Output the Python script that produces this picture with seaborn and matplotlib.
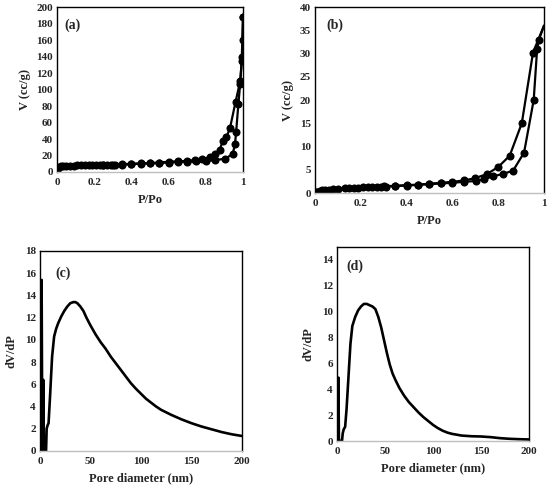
import matplotlib
matplotlib.use("Agg")
import matplotlib.pyplot as plt
import seaborn as sns
import pandas as pd

# (a) isotherm
a_ads_p = [0.0, 0.005, 0.01, 0.02, 0.03, 0.05, 0.07, 0.09, 0.11, 0.13, 0.15, 0.17, 0.19,
           0.21, 0.23, 0.25, 0.27, 0.29, 0.31, 0.35, 0.40, 0.45, 0.50, 0.55, 0.60, 0.65,
           0.70, 0.75, 0.80, 0.85, 0.905, 0.945, 0.957, 0.963, 0.975, 0.985, 0.993, 1.0]
a_ads_v = [0, 5, 6.5, 7, 7, 7.5, 7.5, 7.5, 8, 8, 8, 8, 8, 8.5, 8.5, 8.5, 8.5, 8.5, 9,
           9, 9.5, 10, 10.5, 11, 11.5, 12, 12.5, 13, 13.5, 14.5, 16, 22, 34, 48, 82, 107, 134, 188]
a_des_p = [1.0, 0.998, 0.995, 0.985, 0.96, 0.93, 0.91, 0.89, 0.875, 0.85, 0.82, 0.78,
           0.74, 0.70, 0.65, 0.60, 0.55, 0.50, 0.45, 0.40, 0.35, 0.30, 0.25]
a_des_v = [188, 160, 140, 110, 85, 53, 42, 37, 27, 22, 18, 15.5, 14.5, 13.5, 13, 12.5,
           11.5, 11, 10.5, 10, 9.5, 9, 8.5]

# (b) isotherm
b_ads_p = [0.0, 0.005, 0.01, 0.02, 0.03, 0.045, 0.06, 0.08, 0.10, 0.13, 0.15, 0.17, 0.19,
           0.21, 0.23, 0.25, 0.27, 0.29, 0.31, 0.35, 0.40, 0.45, 0.50, 0.55, 0.60, 0.65,
           0.705, 0.74, 0.778, 0.82, 0.865, 0.913, 0.955, 0.97, 0.978, 1.0]
b_ads_v = [0, 0.2, 0.3, 0.45, 0.55, 0.65, 0.75, 0.8, 0.9, 1.0, 1.05, 1.1, 1.15, 1.2, 1.25,
           1.3, 1.3, 1.35, 1.4, 1.5, 1.6, 1.75, 1.9, 2.05, 2.2, 2.4, 2.6, 3.0, 3.6, 4.1,
           4.8, 8.7, 20, 31, 33, 36]
b_des_p = [1.0, 0.952, 0.903, 0.85, 0.80, 0.752, 0.70, 0.65, 0.60, 0.55, 0.50, 0.45,
           0.40, 0.35, 0.30]
b_des_v = [36, 30.2, 15, 8, 5.6, 4.1, 3.2, 2.7, 2.4, 2.2, 2.0, 1.8, 1.7, 1.55, 1.45]

# (c) pore size distribution
c_d = [1.0, 1.6, 2.3, 2.8, 3.3, 3.9, 4.5, 5.2, 6.0, 6.6, 7.5, 8.5, 10, 12, 14, 16, 18,
       21, 24, 27, 30, 33, 35, 37, 40, 43, 46, 50, 55, 60, 65, 70, 75, 80, 85, 90, 95,
       100, 105, 110, 115, 120, 130, 140, 150, 160, 170, 180, 190, 200]
c_v = [0, 15.4, 0, 0, 6.4, 0, 0, 0, 0, 2.0, 2.3, 2.5, 5, 8.5, 10.3, 11, 11.5, 12.1,
       12.6, 13.0, 13.3, 13.4, 13.4, 13.3, 13.0, 12.6, 12.0, 11.3, 10.5, 9.8, 9.2, 8.5,
       7.9, 7.3, 6.7, 6.1, 5.6, 5.15, 4.7, 4.35, 4.0, 3.7, 3.25, 2.85, 2.5, 2.2, 1.95,
       1.7, 1.5, 1.35]

# (d) pore size distribution
d_d = [1.0, 1.5, 2.0, 3, 4, 5.2, 6, 7, 8.5, 10, 12, 14, 16, 19, 22, 25, 28, 31, 34, 37,
       40, 43, 46, 49, 52, 55, 58, 61, 65, 70, 75, 80, 85, 90, 95, 100, 105, 110, 115,
       120, 130, 140, 150, 160, 170, 180, 190, 200]
d_v = [0, 4.9, 0, 0, 0, 0, 0.6, 0.9, 1.1, 2.5, 5, 7.5, 8.9, 9.6, 10.1, 10.4, 10.6, 10.6,
       10.5, 10.4, 10.2, 9.6, 8.8, 7.8, 6.8, 5.9, 5.2, 4.7, 4.1, 3.5, 3.0, 2.6, 2.2,
       1.85, 1.55, 1.25, 1.0, 0.8, 0.65, 0.55, 0.42, 0.37, 0.35, 0.3, 0.22, 0.17, 0.14,
       0.12]

sns.set_style("white")
plt.rcParams["font.family"] = ["Liberation Serif", "DejaVu Serif"]
plt.rcParams["font.weight"] = "bold"

fig = plt.figure(figsize=(5.5, 4.91), dpi=100)
ax_a = fig.add_axes([0.1036, 0.6497, 0.3382, 0.3360])
ax_b = fig.add_axes([0.5727, 0.6069, 0.4164, 0.3788])
ax_c = fig.add_axes([0.0727, 0.0815, 0.3673, 0.4073])
ax_d = fig.add_axes([0.6127, 0.1018, 0.3491, 0.3951])


def isotherm(ax, p1, v1, p2, v2, last_marker=True):
    for p, v in [(p1, v1), (p2, v2)]:
        df = pd.DataFrame({"p": p, "v": v})
        mk = list(range(len(p))) if last_marker else [i for i in range(len(p)) if p[i] < 1.0]
        sns.lineplot(data=df, x="p", y="v", ax=ax, sort=False, estimator=None,
                     color="black", linewidth=1.6, marker="o", markersize=5.8,
                     markeredgewidth=0, markevery=mk)


def psd(ax, d, v):
    df = pd.DataFrame({"d": d, "v": v})
    sns.lineplot(data=df, x="d", y="v", ax=ax, sort=False, estimator=None,
                 color="black", linewidth=1.9)


isotherm(ax_a, a_ads_p, a_ads_v, a_des_p, a_des_v)
isotherm(ax_b, b_ads_p, b_ads_v, b_des_p, b_des_v, last_marker=False)
psd(ax_c, c_d, c_v)
psd(ax_d, d_d, d_v)

ax_a.set_xlim(0, 1)
ax_a.set_ylim(0, 200)
ax_a.set_yticks(range(0, 201, 20))
ax_b.set_xlim(0, 1)
ax_b.set_ylim(0, 40)
ax_b.set_yticks(range(0, 41, 5))
for ax in (ax_a, ax_b):
    ax.set_xticks([0, 0.2, 0.4, 0.6, 0.8, 1])
    ax.set_xticklabels(["0", "0.2", "0.4", "0.6", "0.8", "1"])
    ax.set_xlabel("P/Po", fontsize=9, fontweight="bold", labelpad=5)
    ax.set_ylabel("V (cc/g)", fontsize=9, fontweight="bold", labelpad=4)

ax_c.set_xlim(0, 200)
ax_c.set_ylim(0, 18)
ax_c.set_yticks(range(0, 19, 2))
ax_d.set_xlim(0, 200)
ax_d.set_ylim(0, 15)
ax_d.set_yticks(range(0, 15, 2))
for ax in (ax_c, ax_d):
    ax.set_xticks(range(0, 201, 50))
    ax.set_xlabel("Pore diameter (nm)", fontsize=9, fontweight="bold", labelpad=4)
    ax.set_ylabel("dV/dP", fontsize=9, fontweight="bold", labelpad=5)

for ax, lab, pos in [(ax_a, "(a)", (0.086, 0.89)), (ax_b, "(b)", (0.087, 0.90)),
                     (ax_c, "(c)", (0.114, 0.89)), (ax_d, "(d)", (0.094, 0.90))]:
    ax.text(pos[0], pos[1], lab, transform=ax.transAxes, ha="center", va="center",
            fontsize=10, fontweight="bold")
    for s in ("left", "top", "right"):
        ax.spines[s].set_color("black")
        ax.spines[s].set_linewidth(1.0)
    ax.spines["bottom"].set_color("#bfbfbf")
    ax.spines["bottom"].set_linewidth(1.0)
    ax.tick_params(axis="x", length=2.5, width=0.8, color="#bfbfbf", pad=2, labelsize=8)
    ax.tick_params(axis="y", length=0, pad=3, labelsize=8)
    for t in ax.get_xticklabels() + ax.get_yticklabels():
        t.set_fontweight("bold")

fig.savefig("out.png", dpi=100)
